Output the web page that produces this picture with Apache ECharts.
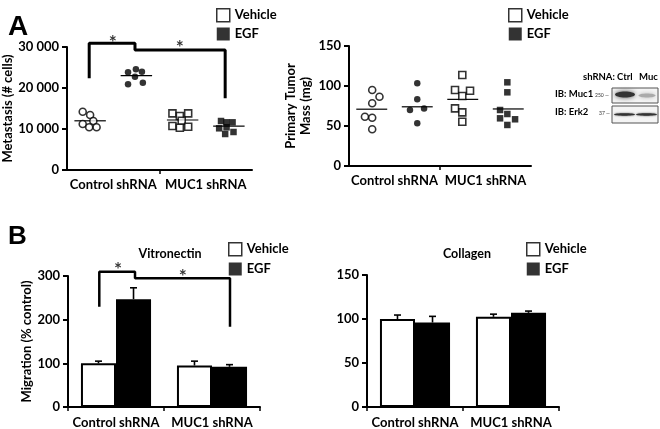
<!DOCTYPE html>
<html>
<head>
<meta charset="utf-8">
<script src="https://cdn.jsdelivr.net/npm/echarts@6/dist/echarts.min.js"></script>
<style>
  html, body { margin: 0; padding: 0; background: #fff; }
  #main { width: 660px; height: 429px; }
</style>
</head>
<body>
<div id="main"></div>
<script>
// group labels shared by all panels
const groups = ['Control shRNA', 'MUC1 shRNA']

// panel A left: metastasis (# cells), [x position in group, value]
const metCtrlVeh = [[0.34, 14220], [0.50, 13400], [0.57, 11950], [0.34, 11220], [0.48, 10410], [0.64, 10410]]
const metCtrlEgf = [[1.32, 23830], [1.49, 24560], [1.62, 23980], [1.47, 22760], [1.32, 20900], [1.64, 21290]]
const metMucVeh = [[2.28, 13820], [2.44, 13170], [2.62, 13820], [2.48, 12020], [2.28, 10730], [2.44, 10320], [2.62, 10560]]
const metMucEgf = [[3.33, 11950], [3.45, 11630], [3.58, 11630], [3.29, 10170], [3.45, 10410], [3.42, 8780], [3.60, 9270]]
const metMeans = [12000, 23000, 12200, 10700]
const metBracket = [[0.48, 22360], [0.48, 30900], [1.47, 30900], [1.47, 29270], [3.42, 29270], [3.42, 17490]]
const metStars = [[0.99, 31000], [2.44, 29900]]

// panel A middle: primary tumor mass (mg)
const massCtrlVeh = [[0.51, 95], [0.67, 86.6], [0.51, 78.4], [0.35, 61.6], [0.51, 60.4], [0.51, 45.9]]
const massCtrlEgf = [[1.50, 103.3], [1.50, 83.3], [1.34, 70], [1.65, 72], [1.50, 53.3]]
const massMucVeh = [[2.49, 113.8], [2.33, 95], [2.66, 94.1], [2.49, 87.5], [2.33, 72], [2.49, 67], [2.49, 55.4]]
const massMucEgf = [[3.48, 104.6], [3.48, 92.1], [3.32, 70], [3.48, 65], [3.32, 59.6], [3.65, 58.4], [3.48, 51.3]]
const massMeans = [71, 74, 83.3, 71.3]

// panel B: migration (% control)
const vitroVehicle = [100, 95]
const vitroVehicleErr = [5, 10]
const vitroEgf = [247, 92]
const vitroEgfErr = [26, 5]
const vitroBracket = [[0.326, 229.5], [0.326, 309.8], [0.698, 309.8], [0.698, 294.7], [1.6875, 294.7], [1.6875, 183.6]]
const vitroStars = [[0.52, 313], [1.195, 299]]

const collVehicle = [100, 102.5]
const collVehicleErr = [4.5, 3]
const collEgf = [96, 107]
const collEgfErr = [7, 2]

const FONT = 'Lato, sans-serif'
const BAR_FRAC = 0.365

let chart = echarts.init(document.getElementById('main'))

function thousands (v) {
  return String(v).replace(/\B(?=(\d{3})+(?!\d))/g, ' ')
}

function yAxisBase (grid, max, interval) {
  return {
    type: 'value',
    gridIndex: grid,
    min: 0,
    max: max,
    interval: interval,
    splitLine: { show: false },
    axisLine: { show: true, lineStyle: { color: '#000', width: 2 } },
    axisTick: { show: true, length: 5, lineStyle: { color: '#000', width: 2 } },
    axisLabel: { color: '#000', fontFamily: FONT, fontWeight: 'bold', fontSize: 13, margin: 8 },
    nameLocation: 'middle',
    nameRotate: 90,
    nameTextStyle: { color: '#000', fontFamily: FONT, fontWeight: 'bold', fontSize: 13 }
  }
}

function dotXAxis (grid) {
  return {
    type: 'value',
    gridIndex: grid,
    min: 0,
    max: 4,
    splitLine: { show: false },
    axisLine: { show: true, lineStyle: { color: '#000', width: 2 } },
    axisTick: { show: true, customValues: [2], length: 4, lineStyle: { color: '#000', width: 1.5 } },
    axisLabel: {
      customValues: [1, 3],
      formatter: function (v) { return groups[(v - 1) / 2] },
      color: '#000', fontFamily: FONT, fontWeight: 'bold', fontSize: 13, margin: 8
    }
  }
}

function barXAxis (grid) {
  return {
    type: 'category',
    gridIndex: grid,
    data: groups,
    axisLine: { show: true, lineStyle: { color: '#000', width: 2 } },
    axisTick: { show: true, length: 4, lineStyle: { color: '#000', width: 1.5 } },
    axisLabel: { interval: 0, hideOverlap: false, color: '#000', fontFamily: FONT, fontWeight: 'bold', fontSize: 13, margin: 9 }
  }
}

function dots (name, grid, data, symbol, filled) {
  return {
    name: name,
    type: 'scatter',
    xAxisIndex: grid,
    yAxisIndex: grid,
    data: data,
    symbol: symbol,
    symbolSize: filled ? 6.5 : 7,
    itemStyle: filled
      ? { color: '#000' }
      : { color: '#fff', borderColor: '#000', borderWidth: 1.6 },
    z: 3
  }
}

function meanLines (grid, means) {
  return {
    type: 'custom',
    xAxisIndex: grid,
    yAxisIndex: grid,
    data: means.map((m, i) => [i + 0.5, m]),
    renderItem: function (params, api) {
      let p1 = api.coord([api.value(0) - 0.34, api.value(1)])
      let p2 = api.coord([api.value(0) + 0.34, api.value(1)])
      return {
        type: 'line',
        shape: { x1: p1[0], y1: p1[1], x2: p2[0], y2: p2[1] },
        style: { stroke: '#000', lineWidth: 1.2 }
      }
    },
    z: 2
  }
}

function bars (name, grid, data, fill) {
  return {
    name: name,
    type: 'bar',
    xAxisIndex: grid,
    yAxisIndex: grid,
    data: data,
    barWidth: (BAR_FRAC * 100) + '%',
    barGap: '0%',
    itemStyle: { color: fill, borderColor: '#000', borderWidth: 2 },
    z: 2
  }
}

// side: -1 left bar (Vehicle), 1 right bar (EGF)
function errBars (grid, values, errs, side) {
  return {
    type: 'custom',
    xAxisIndex: grid,
    yAxisIndex: grid,
    data: values.map((v, i) => [i, v, errs[i]]),
    renderItem: function (params, api) {
      let band = api.size([1, 0])[0]
      let base = api.coord([api.value(0), api.value(1)])
      let top = api.coord([api.value(0), api.value(1) + api.value(2)])
      let x = base[0] + side * band * BAR_FRAC / 2
      return {
        type: 'group',
        children: [
          { type: 'line', shape: { x1: x, y1: base[1], x2: x, y2: top[1] }, style: { stroke: '#000', lineWidth: 1.6 } },
          { type: 'line', shape: { x1: x - 3.5, y1: top[1], x2: x + 3.5, y2: top[1] }, style: { stroke: '#000', lineWidth: 1.6 } }
        ]
      }
    },
    z: 4
  }
}

function bracket (xIdx, yIdx, data, width) {
  return {
    type: 'line',
    xAxisIndex: xIdx,
    yAxisIndex: yIdx,
    data: data,
    symbol: 'none',
    clip: false,
    lineStyle: { color: '#000', width: width },
    z: 5
  }
}

function stars (xIdx, yIdx, data) {
  return {
    type: 'scatter',
    xAxisIndex: xIdx,
    yAxisIndex: yIdx,
    data: data,
    symbolSize: 0,
    clip: false,
    label: {
      show: true,
      position: 'inside',
      formatter: '*',
      color: '#000',
      fontFamily: FONT,
      fontWeight: 'bold',
      fontSize: 19
    },
    z: 5
  }
}

function legendAt (left, top, size, gap) {
  return {
    left: left,
    top: top,
    orient: 'vertical',
    selectedMode: false,
    itemWidth: size,
    itemHeight: size,
    itemGap: gap,
    icon: 'rect',
    textStyle: { color: '#000', fontFamily: FONT, fontWeight: 'bold', fontSize: 13 },
    data: [
      { name: 'Vehicle', itemStyle: { color: '#fff', borderColor: '#000', borderWidth: 1.5 } },
      { name: 'EGF', itemStyle: { color: '#000', borderColor: '#000', borderWidth: 0 } }
    ]
  }
}

let yMet = yAxisBase(0, 30000, 10000)
yMet.axisLabel.formatter = thousands
yMet.name = 'Metastasis (# cells)'
yMet.nameGap = 51

let yMass = yAxisBase(1, 150, 50)
yMass.name = 'Primary Tumor\nMass (mg)'
yMass.nameGap = 36
yMass.nameTextStyle.lineHeight = 15

let yVitro = yAxisBase(2, 300, 100)
yVitro.name = 'Migration (% control)'
yVitro.nameGap = 33

let yColl = yAxisBase(3, 150, 50)

// western blot inset (image in the original figure)
let blotText = { fill: '#000', fontFamily: FONT, fontWeight: 'bold', fontSize: 9.5 }
let blot = [
  { type: 'text', left: 583, top: 72, style: Object.assign({ text: 'shRNA:' }, blotText) },
  { type: 'text', left: 617, top: 72, style: Object.assign({ text: 'Ctrl' }, blotText) },
  { type: 'text', left: 639, top: 72, style: Object.assign({ text: 'Muc' }, blotText) },
  { type: 'text', left: 555, top: 89, style: Object.assign({ text: 'IB: Muc1' }, blotText) },
  { type: 'text', left: 555, top: 107, style: Object.assign({ text: 'IB: Erk2' }, blotText) },
  { type: 'text', left: 595, top: 93, style: { text: '250 —', fill: '#333', fontFamily: FONT, fontSize: 5 } },
  { type: 'text', left: 599, top: 111, style: { text: '37 —', fill: '#333', fontFamily: FONT, fontSize: 5 } },
  { type: 'rect', shape: { x: 612, y: 88, width: 46, height: 15 }, style: { fill: '#f4f4f4', stroke: '#555', lineWidth: 1 } },
  { type: 'ellipse', shape: { cx: 625, cy: 94.5, rx: 10, ry: 3 }, style: { fill: '#333', shadowBlur: 5, shadowColor: '#555' } },
  { type: 'ellipse', shape: { cx: 647, cy: 95.5, rx: 8.5, ry: 2 }, style: { fill: '#aaa', shadowBlur: 4, shadowColor: '#bbb' } },
  { type: 'rect', shape: { x: 612, y: 106, width: 46, height: 17 }, style: { fill: '#f4f4f4', stroke: '#555', lineWidth: 1 } },
  { type: 'ellipse', shape: { cx: 624.5, cy: 114.5, rx: 10.5, ry: 1.2 }, style: { fill: '#333', shadowBlur: 2, shadowColor: '#555' } },
  { type: 'ellipse', shape: { cx: 646.5, cy: 114.5, rx: 10.5, ry: 1.2 }, style: { fill: '#333', shadowBlur: 2, shadowColor: '#555' } }
]

let option = {
  animation: false,
  backgroundColor: '#fff',
  title: [
    { text: 'A', left: 3, top: 8, textStyle: { color: '#000', fontFamily: 'Liberation Sans', fontWeight: 'bold', fontSize: 28 } },
    { text: 'B', left: 3, top: 219, textStyle: { color: '#000', fontFamily: 'Liberation Sans', fontWeight: 'bold', fontSize: 26 } },
    { text: 'Vitronectin', left: 165, top: 242, textAlign: 'center', textStyle: { color: '#000', fontFamily: FONT, fontWeight: 'bold', fontSize: 12.5 } },
    { text: 'Collagen', left: 462, top: 242, textAlign: 'center', textStyle: { color: '#000', fontFamily: FONT, fontWeight: 'bold', fontSize: 12.5 } }
  ],
  legend: [
    legendAt(211, 3, 13, 5),
    legendAt(503, 3, 13, 5),
    legendAt(223, 237, 13, 6),
    legendAt(521, 237, 13, 6)
  ],
  grid: [
    { left: 67, top: 47, width: 185, height: 123 },
    { left: 349, top: 46, width: 182, height: 120 },
    { left: 68, top: 276, width: 192, height: 131 },
    { left: 367, top: 275, width: 192, height: 132 }
  ],
  xAxis: [
    dotXAxis(0),
    dotXAxis(1),
    barXAxis(2),
    barXAxis(3),
    { type: 'value', gridIndex: 2, min: 0, max: 2, show: false }
  ],
  yAxis: [yMet, yMass, yVitro, yColl],
  graphic: blot,
  series: [
    dots('Vehicle', 0, metCtrlVeh, 'circle', false),
    dots('EGF', 0, metCtrlEgf, 'circle', true),
    dots('Vehicle', 0, metMucVeh, 'rect', false),
    dots('EGF', 0, metMucEgf, 'rect', true),
    meanLines(0, metMeans),
    bracket(0, 0, metBracket, 3),
    stars(0, 0, metStars),

    dots('Vehicle', 1, massCtrlVeh, 'circle', false),
    dots('EGF', 1, massCtrlEgf, 'circle', true),
    dots('Vehicle', 1, massMucVeh, 'rect', false),
    dots('EGF', 1, massMucEgf, 'rect', true),
    meanLines(1, massMeans),

    bars('Vehicle', 2, vitroVehicle, '#fff'),
    bars('EGF', 2, vitroEgf, '#000'),
    errBars(2, vitroVehicle, vitroVehicleErr, -1),
    errBars(2, vitroEgf, vitroEgfErr, 1),
    bracket(4, 2, vitroBracket, 2.5),
    stars(4, 2, vitroStars),

    bars('Vehicle', 3, collVehicle, '#fff'),
    bars('EGF', 3, collEgf, '#000'),
    errBars(3, collVehicle, collVehicleErr, -1),
    errBars(3, collEgf, collEgfErr, 1)
  ]
}

chart.setOption(option)
</script>
</body>
</html>
